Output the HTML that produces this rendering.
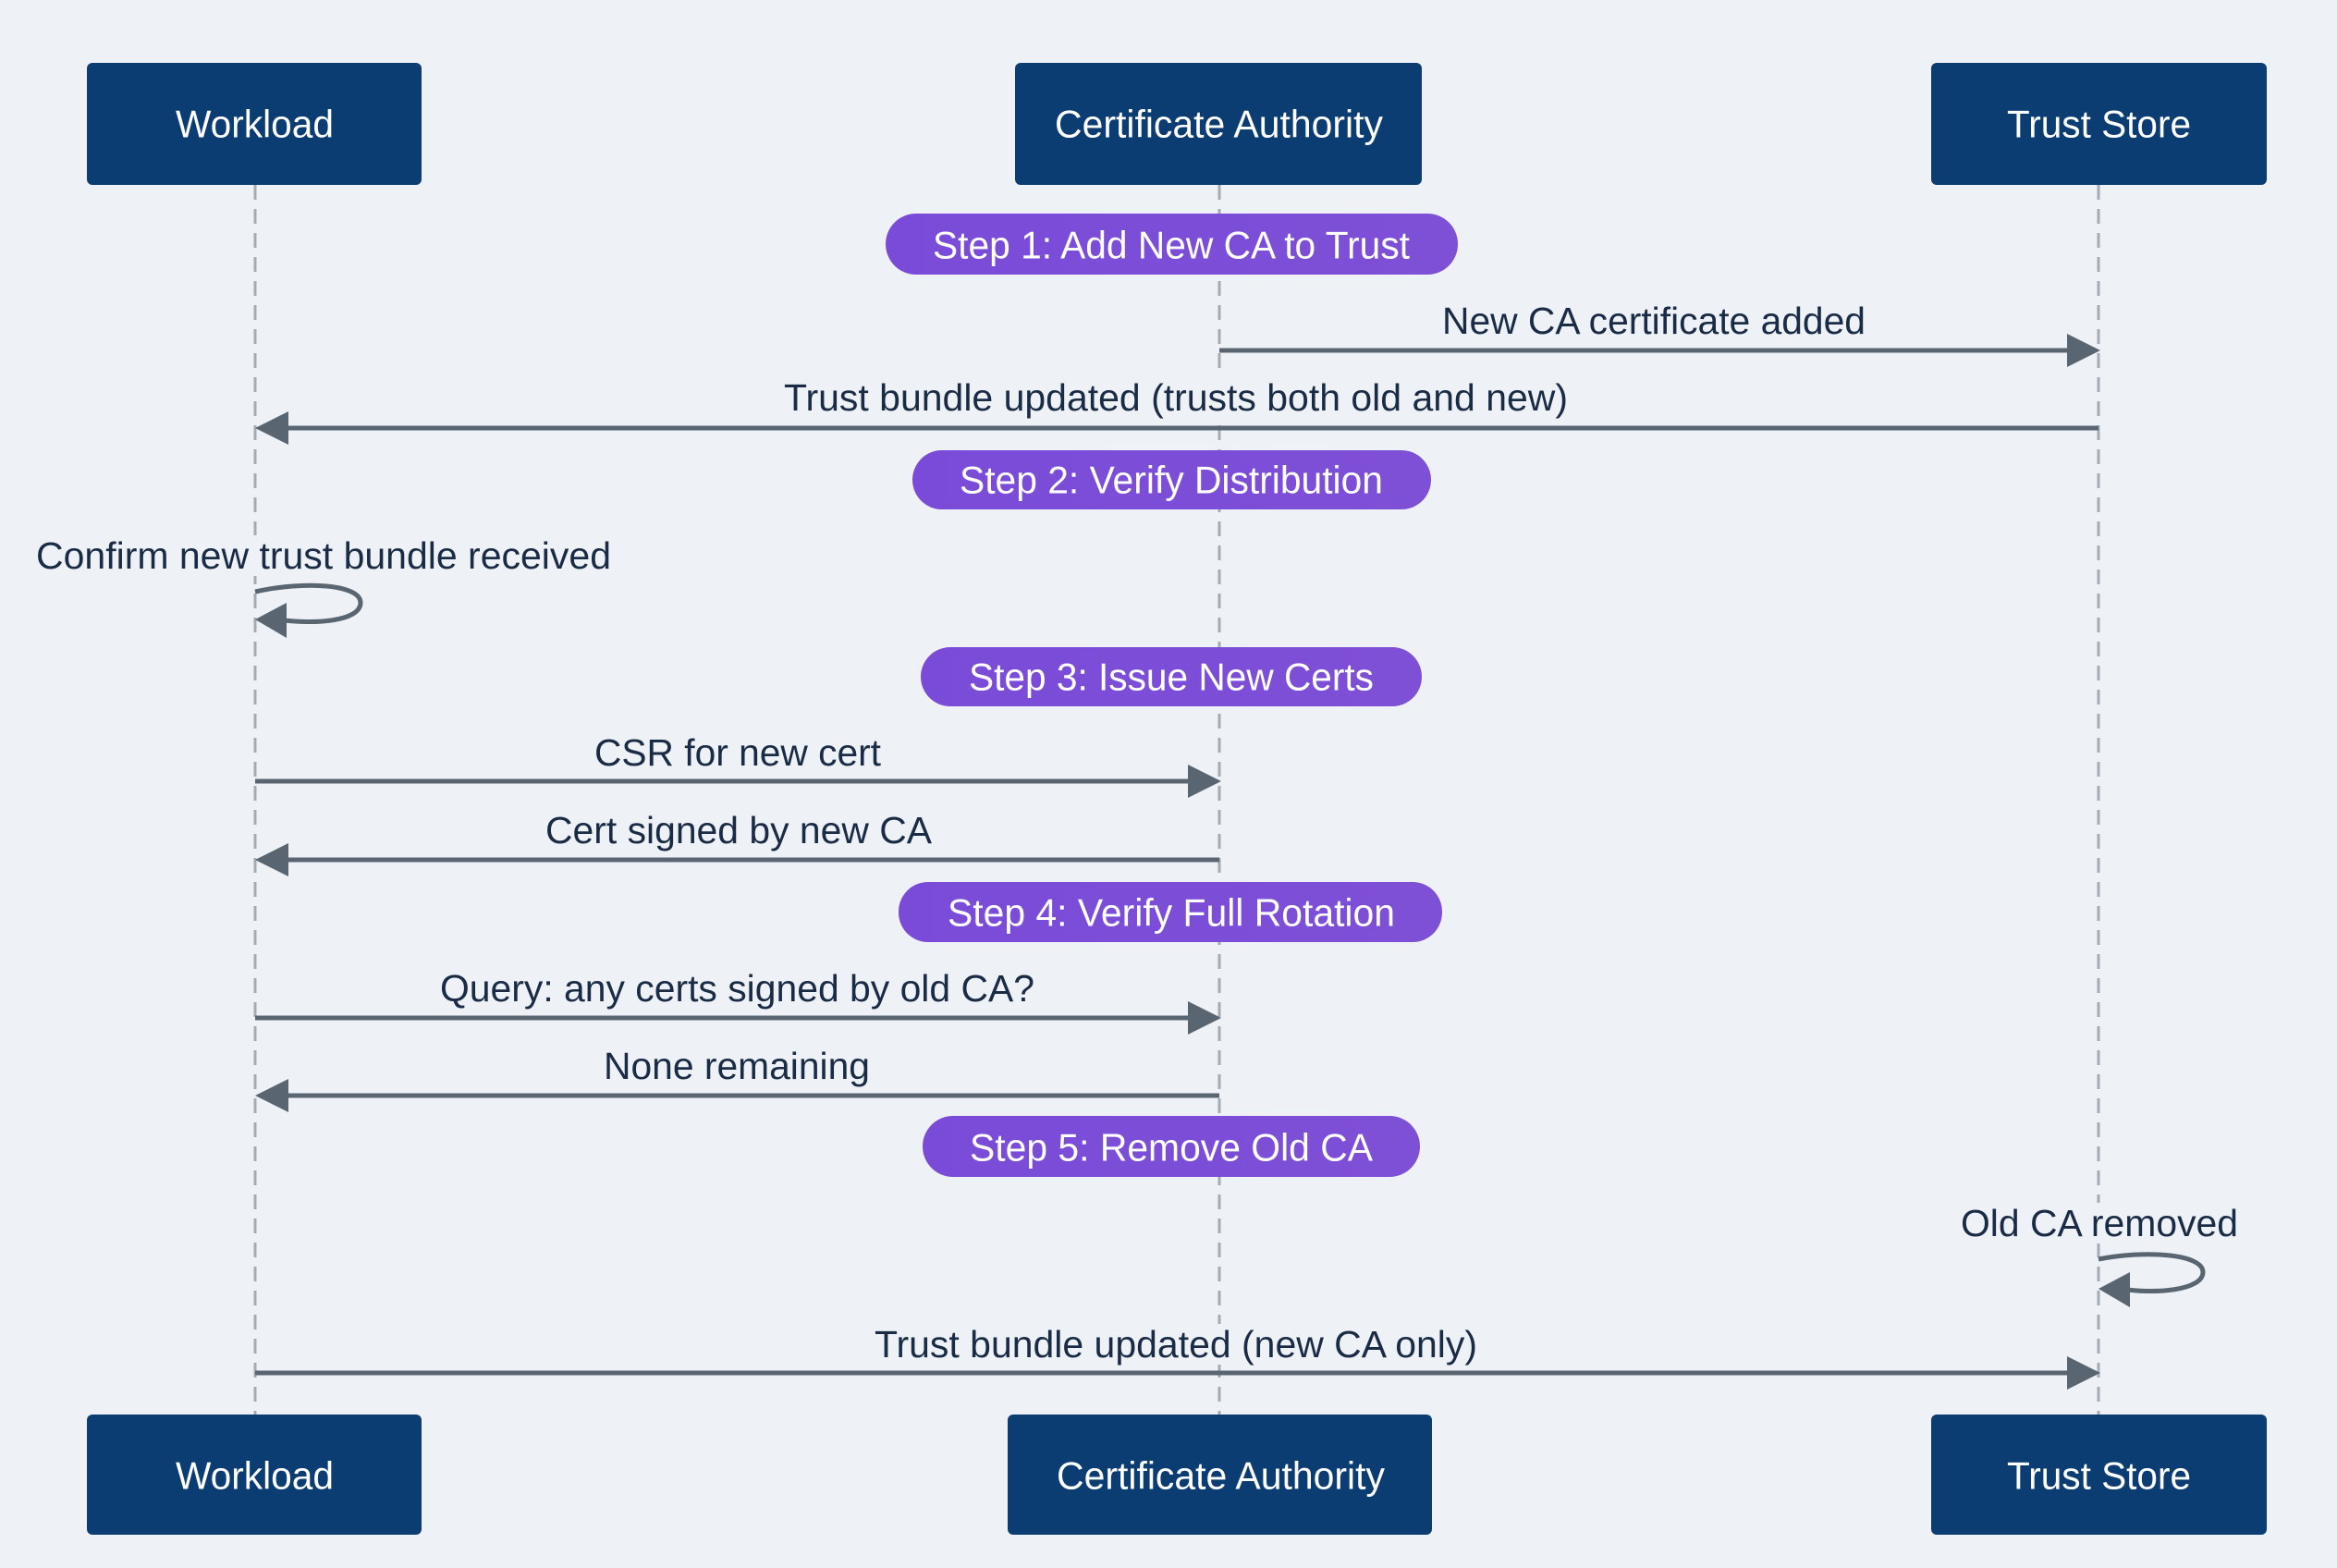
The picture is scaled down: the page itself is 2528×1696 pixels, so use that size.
<!DOCTYPE html>
<html><head><meta charset="utf-8"><style>html,body{margin:0;padding:0;background:#eef1f5}svg{display:block}</style></head>
<body>
<svg width="2528" height="1696" viewBox="0 0 2528 1696" xmlns="http://www.w3.org/2000/svg" font-family="Liberation Sans, Arial, sans-serif">
<defs>
<linearGradient id="pg" x1="0" y1="0" x2="1" y2="0"><stop offset="0" stop-color="#7a4bd8"/><stop offset="1" stop-color="#7e50d6"/></linearGradient>
</defs>
<rect width="2528" height="1696" fill="#eef1f5"/>
<g stroke="#a3abb4" stroke-width="3" stroke-dasharray="16 10">
<line x1="276" y1="200" x2="276" y2="1530"/>
<line x1="1319" y1="200" x2="1319" y2="1530"/>
<line x1="2270" y1="200" x2="2270" y2="1530"/>
</g>
<g fill="#0b3d73">
<rect x="94" y="68" width="362" height="132" rx="6"/>
<rect x="1098" y="68" width="440" height="132" rx="6"/>
<rect x="2089" y="68" width="363" height="132" rx="6"/>
<rect x="94" y="1530" width="362" height="130" rx="6"/>
<rect x="1090" y="1530" width="459" height="130" rx="6"/>
<rect x="2089" y="1530" width="363" height="130" rx="6"/>
</g>
<g fill="#ffffff" font-size="42" dominant-baseline="central">
<text x="190" y="134" textLength="171" lengthAdjust="spacingAndGlyphs">Workload</text>
<text x="1141" y="134" textLength="355" lengthAdjust="spacingAndGlyphs">Certificate Authority</text>
<text x="2171" y="134" textLength="199" lengthAdjust="spacingAndGlyphs">Trust Store</text>
<text x="190" y="1596" textLength="171" lengthAdjust="spacingAndGlyphs">Workload</text>
<text x="1143" y="1596" textLength="355" lengthAdjust="spacingAndGlyphs">Certificate Authority</text>
<text x="2171" y="1596" textLength="199" lengthAdjust="spacingAndGlyphs">Trust Store</text>
</g>
<g fill="url(#pg)">
<rect x="958" y="231" width="619" height="66" rx="33"/>
<rect x="987" y="487" width="561" height="64" rx="32"/>
<rect x="996" y="700" width="542" height="64" rx="32"/>
<rect x="972" y="954" width="588" height="65" rx="32"/>
<rect x="998" y="1207" width="538" height="66" rx="33"/>
</g>
<g fill="#ffffff" font-size="42" dominant-baseline="central">
<text x="1009" y="265" textLength="516" lengthAdjust="spacingAndGlyphs">Step 1: Add New CA to Trust</text>
<text x="1038" y="519" textLength="458" lengthAdjust="spacingAndGlyphs">Step 2: Verify Distribution</text>
<text x="1048" y="732" textLength="438" lengthAdjust="spacingAndGlyphs">Step 3: Issue New Certs</text>
<text x="1025" y="987" textLength="484" lengthAdjust="spacingAndGlyphs">Step 4: Verify Full Rotation</text>
<text x="1049" y="1241" textLength="436" lengthAdjust="spacingAndGlyphs">Step 5: Remove Old CA</text>
</g>
<g fill="#eef1f5">
<rect x="848" y="408" width="848" height="44"/>
<rect x="39" y="579" width="622" height="44"/>
<rect x="476" y="1047" width="643" height="44"/>
<rect x="2121" y="1301" width="300" height="44"/>
<rect x="946" y="1432" width="652" height="44"/>
</g>
<g fill="#1a2b45" font-size="41" dominant-baseline="central">
<text x="1560" y="347" textLength="458" lengthAdjust="spacingAndGlyphs">New CA certificate added</text>
<text x="848" y="430" textLength="848" lengthAdjust="spacingAndGlyphs">Trust bundle updated (trusts both old and new)</text>
<text x="39" y="601" textLength="622" lengthAdjust="spacingAndGlyphs">Confirm new trust bundle received</text>
<text x="643" y="814" textLength="310" lengthAdjust="spacingAndGlyphs">CSR for new cert</text>
<text x="590" y="898" textLength="418" lengthAdjust="spacingAndGlyphs">Cert signed by new CA</text>
<text x="476" y="1069" textLength="643" lengthAdjust="spacingAndGlyphs">Query: any certs signed by old CA?</text>
<text x="653" y="1153" textLength="288" lengthAdjust="spacingAndGlyphs">None remaining</text>
<text x="2121" y="1323" textLength="300" lengthAdjust="spacingAndGlyphs">Old CA removed</text>
<text x="946" y="1454" textLength="652" lengthAdjust="spacingAndGlyphs">Trust bundle updated (new CA only)</text>
</g>
<g stroke="#5a6572" stroke-width="5" fill="none">
<line x1="1319" y1="379" x2="2240" y2="379"/>
<line x1="2270" y1="463" x2="306" y2="463"/>
<line x1="276" y1="845" x2="1289" y2="845"/>
<line x1="1319" y1="930" x2="306" y2="930"/>
<line x1="276" y1="1101" x2="1289" y2="1101"/>
<line x1="1319" y1="1185" x2="306" y2="1185"/>
<line x1="276" y1="1485" x2="2240" y2="1485"/>
<path d="M276 640 C330 628 390 632 390 652 C390 672 340 676 300 670"/>
<path d="M2270 1362 C2320 1352 2383 1356 2383 1376 C2383 1396 2330 1400 2294 1394"/>
</g>
<g fill="#5a6572">
<polygon points="2272,379 2236,361 2236,397"/>
<polygon points="276,463 312,445 312,481"/>
<polygon points="1321,845 1285,827 1285,863"/>
<polygon points="276,930 312,912 312,948"/>
<polygon points="1321,1101 1285,1083 1285,1119"/>
<polygon points="276,1185 312,1167 312,1203"/>
<polygon points="2272,1485 2236,1467 2236,1503"/>
<polygon points="276,670 310,652 310,690"/>
<polygon points="2270,1394 2304,1376 2304,1414"/>
</g>
</svg>
</body></html>
